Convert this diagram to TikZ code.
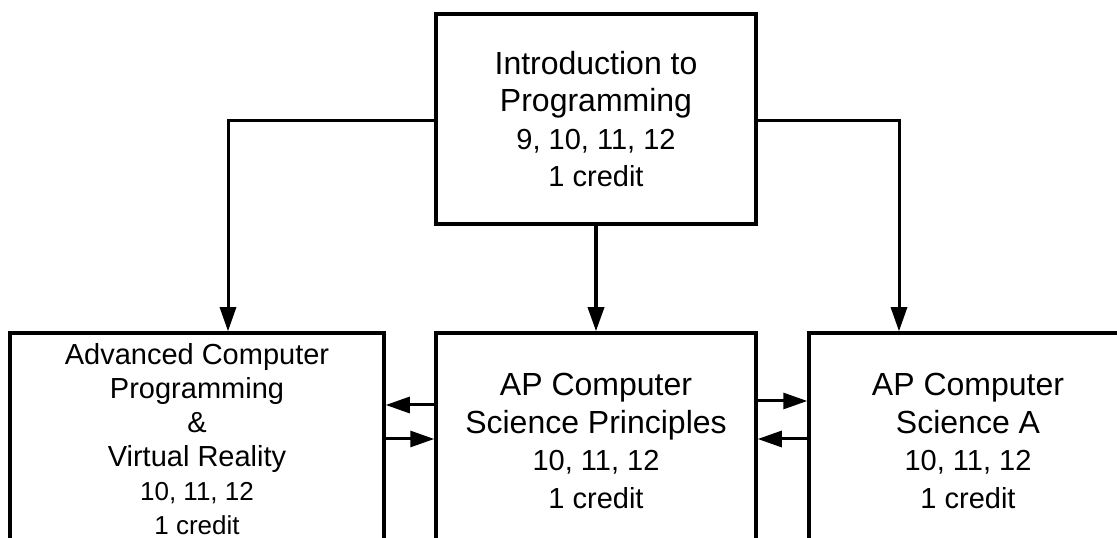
\documentclass[tikz,border=0pt]{standalone}
\usepackage{fontspec}
\setmainfont{Liberation Sans}
\usetikzlibrary{arrows.meta, positioning, calc}

\newcommand{\klein}{\fontsize{29}{37}\selectfont}

\tikzset{
  kurs/.style={draw, line width=3.5pt, inner sep=0pt, align=center,
    minimum height=216pt, font={\fontsize{32}{37.5}\selectfont}},
  pfeil/.style={line width=3pt, -{Triangle[length=24pt, width=16pt]}}
}

\begin{document}
\begin{tikzpicture}[x=1pt, y=1pt]
  \useasboundingbox (0,0) rectangle (1117,538);
  \clip (0,0) rectangle (1117,538);

  % Einstiegskurs
  \node[kurs, minimum width=320pt, minimum height=210pt] (intro) at (596,419)
    {Introduction to\\Programming\\\klein 9, 10, 11, 12\\\klein 1 credit};

  % Folgekurse
  \node[kurs, minimum width=374pt, minimum height=212pt, font={\fontsize{29}{34}\selectfont}] (links) at (197,99)
    {Advanced Computer\\Programming\\\&\\Virtual Reality\\\fontsize{26}{34}\selectfont 10, 11, 12\\\fontsize{26}{34}\selectfont 1 credit};
  \node[kurs, minimum width=320pt] (mitte) at (596,97)
    {AP Computer\\Science Principles\\\klein 10, 11, 12\\\klein 1 credit};
  \node[kurs, minimum width=318pt] (rechts) at (968,97)
    {AP Computer\\Science A\\\klein 10, 11, 12\\\klein 1 credit};

  % Verbindungen von oben
  \draw[pfeil] (intro.west |- 0,417) -| (links.north -| 228,0);
  \draw[pfeil, line width=3.5pt] (intro.south) -- (mitte.north);
  \draw[pfeil] (intro.east |- 0,417) -| (rechts.north -| 899,0);

  % Wechsel zwischen den Kursen
  \draw[pfeil] (mitte.west |- 0,133) -- (links.east |- 0,133);
  \draw[pfeil] (links.east |- 0,99) -- (mitte.west |- 0,99);
  \draw[pfeil] (mitte.east |- 0,137) -- (rechts.west |- 0,137);
  \draw[pfeil] (rechts.west |- 0,99) -- (mitte.east |- 0,99);
\end{tikzpicture}
\end{document}
